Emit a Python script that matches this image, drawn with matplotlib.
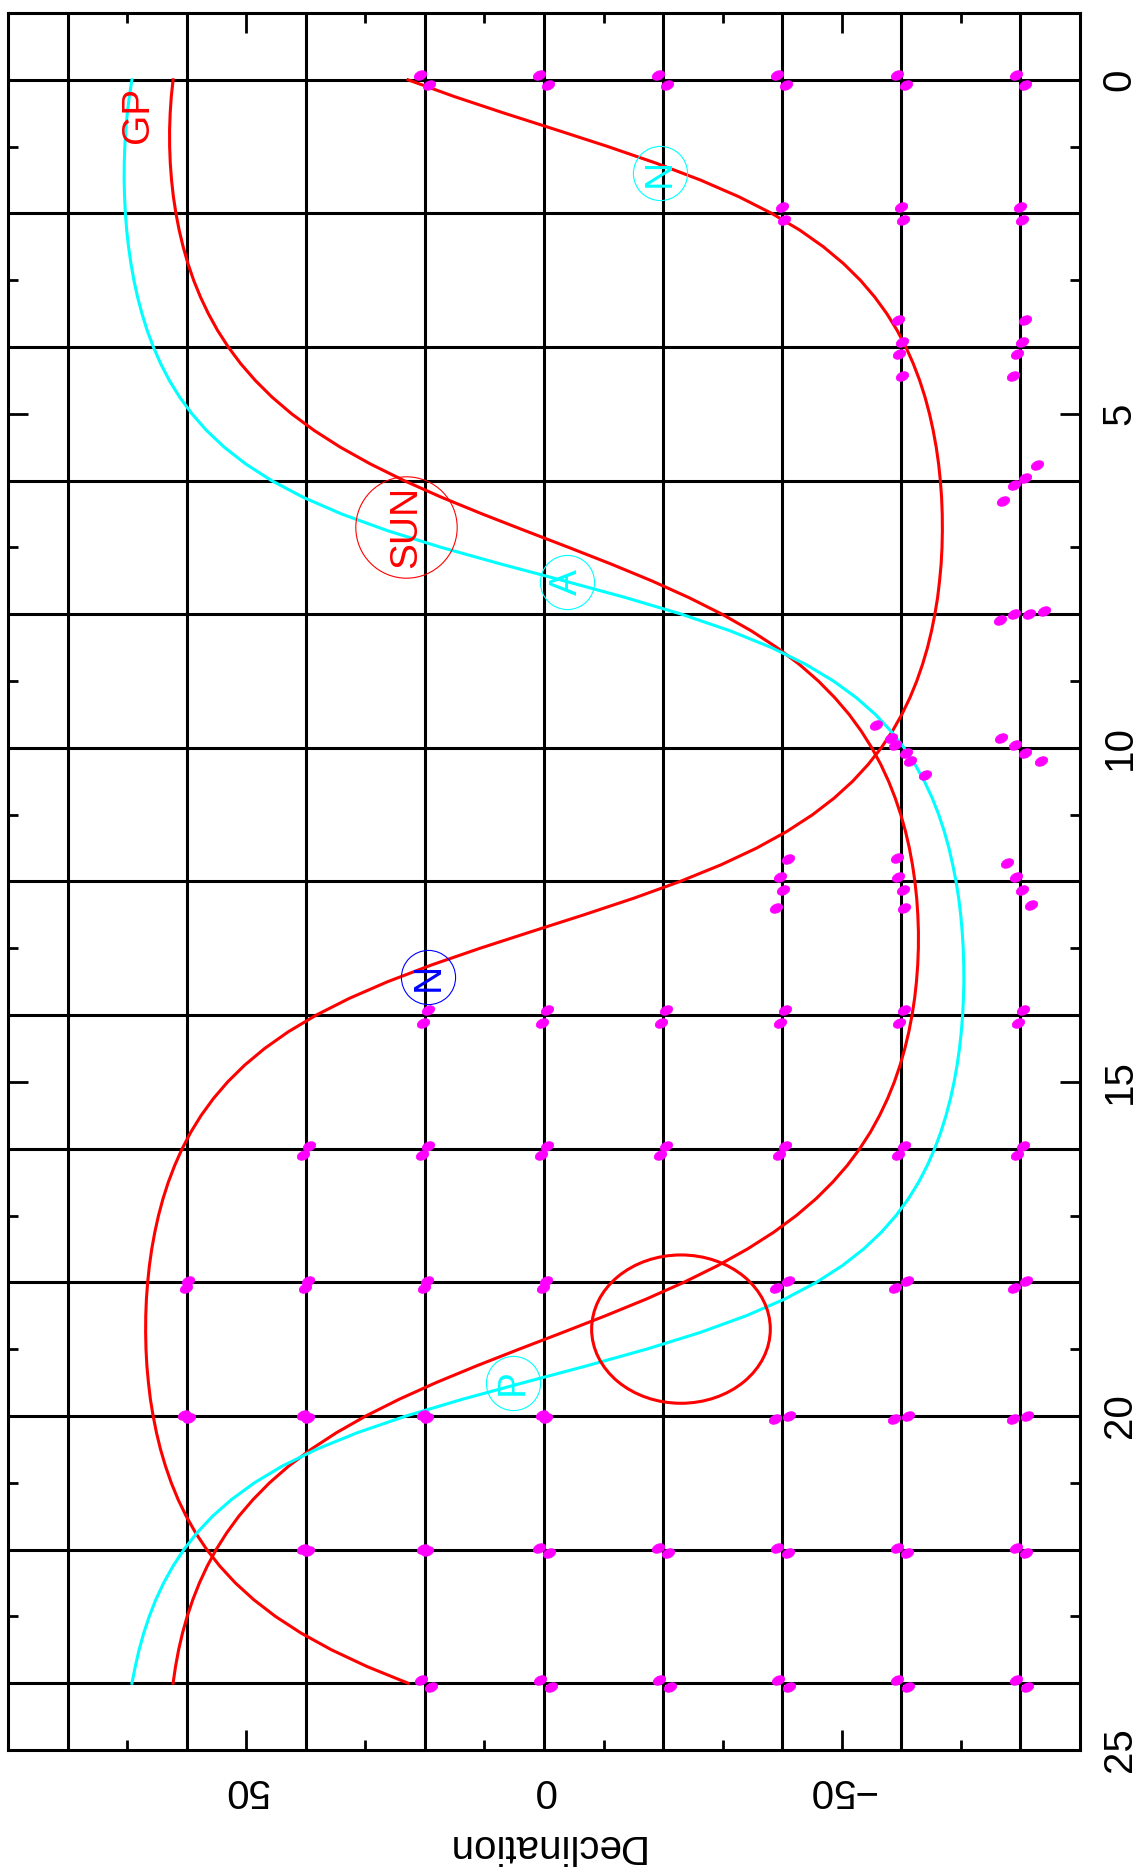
import matplotlib
matplotlib.use("Agg")
import matplotlib.pyplot as plt
from matplotlib.markers import MarkerStyle
from matplotlib.transforms import Affine2D
from matplotlib.ticker import MultipleLocator
from matplotlib.patches import Ellipse

plt.rcParams['font.family'] = ['Liberation Sans', 'DejaVu Sans']

# ---------------- data ----------------
ra_hours = [0.0, 0.25, 0.5, 0.75, 1.0, 1.25, 1.5, 1.75, 2.0, 2.25, 2.5, 2.75,
            3.0, 3.25, 3.5, 3.75, 4.0, 4.25, 4.5, 4.75, 5.0, 5.25, 5.5, 5.75,
            6.0, 6.25, 6.5, 6.75, 7.0, 7.25, 7.5, 7.75, 8.0, 8.25, 8.5, 8.75,
            9.0, 9.25, 9.5, 9.75, 10.0, 10.25, 10.5, 10.75, 11.0, 11.25, 11.5, 11.75,
            12.0, 12.25, 12.5, 12.75, 13.0, 13.25, 13.5, 13.75, 14.0, 14.25, 14.5, 14.75,
            15.0, 15.25, 15.5, 15.75, 16.0, 16.25, 16.5, 16.75, 17.0, 17.25, 17.5, 17.75,
            18.0, 18.25, 18.5, 18.75, 19.0, 19.25, 19.5, 19.75, 20.0, 20.25, 20.5, 20.75,
            21.0, 21.25, 21.5, 21.75, 22.0, 22.25, 22.5, 22.75, 23.0, 23.25, 23.5, 23.75,
            24.0]

# red curve labelled GP (galactic plane)
galactic_plane_dec = [
    62.28, 62.58, 62.77, 62.87, 62.86, 62.75, 62.54, 62.23, 61.80, 61.26, 60.59, 59.79,
    58.83, 57.69, 56.36, 54.82, 53.01, 50.92, 48.48, 45.66, 42.37, 38.57, 34.18, 29.16,
    23.48, 17.18, 10.33, 3.14, -4.17, -11.32, -18.10, -24.32, -29.91, -34.84, -39.13, -42.87,
    -46.08, -48.84, -51.24, -53.28, -55.05, -56.56, -57.86, -58.97, -59.91, -60.70, -61.35, -61.87,
    -62.28, -62.58, -62.77, -62.87, -62.86, -62.75, -62.54, -62.23, -61.80, -61.26, -60.59, -59.79,
    -58.83, -57.69, -56.36, -54.82, -53.01, -50.92, -48.48, -45.66, -42.37, -38.57, -34.18, -29.16,
    -23.48, -17.18, -10.33, -3.14, 4.17, 11.32, 18.10, 24.32, 29.91, 34.84, 39.13, 42.87,
    46.08, 48.84, 51.24, 53.28, 55.05, 56.56, 57.86, 58.97, 59.91, 60.70, 61.35, 61.87,
    62.28]

# second red curve (90 deg from the Sun)
sun_limit_dec = [
    22.83, 15.08, 6.65, -2.11, -10.76, -18.90, -26.26, -32.71, -38.25, -42.95, -46.92, -50.28,
    -53.12, -55.52, -57.56, -59.29, -60.76, -62.01, -63.08, -63.98, -64.73, -65.35, -65.86, -66.26,
    -66.55, -66.76, -66.87, -66.89, -66.83, -66.68, -66.42, -66.09, -65.63, -65.07, -64.39, -63.56,
    -62.59, -61.44, -60.08, -58.50, -56.62, -54.41, -51.82, -48.74, -45.10, -40.79, -35.70, -29.73,
    -22.83, -15.08, -6.65, 2.11, 10.76, 18.90, 26.26, 32.71, 38.25, 42.95, 46.92, 50.28,
    53.12, 55.52, 57.56, 59.29, 60.76, 62.01, 63.08, 63.98, 64.73, 65.35, 65.86, 66.26,
    66.55, 66.76, 66.87, 66.89, 66.83, 66.68, 66.42, 66.09, 65.63, 65.07, 64.39, 63.56,
    62.59, 61.44, 60.08, 58.50, 56.62, 54.41, 51.82, 48.74, 45.10, 40.79, 35.70, 29.73,
    22.83]

# cyan curve
cyan_plane_dec = [
    69.19, 69.63, 69.97, 70.22, 70.39, 70.48, 70.50, 70.43, 70.29, 70.07, 69.76, 69.36,
    68.86, 68.25, 67.51, 66.64, 65.59, 64.36, 62.91, 61.18, 59.11, 56.65, 53.68, 50.09,
    45.73, 40.42, 33.96, 26.24, 17.22, 7.16, -3.38, -13.70, -23.13, -31.33, -38.23, -43.94,
    -48.62, -52.46, -55.65, -58.27, -60.47, -62.31, -63.87, -65.18, -66.28, -67.21, -67.99, -68.63,
    -69.19, -69.63, -69.97, -70.22, -70.39, -70.48, -70.50, -70.43, -70.29, -70.07, -69.76, -69.36,
    -68.86, -68.25, -67.51, -66.64, -65.59, -64.36, -62.91, -61.18, -59.11, -56.65, -53.68, -50.09,
    -45.73, -40.42, -33.96, -26.24, -17.22, -7.16, 3.38, 13.70, 23.13, 31.33, 38.23, 43.94,
    48.62, 52.46, 55.65, 58.27, 60.47, 62.31, 63.87, 65.18, 66.28, 67.21, 67.99, 68.63,
    69.19]

# red ring around the anti-solar point
ring_ra = 18.70
ring_dec = -23.0
ring_half_dec = 15.0
ring_half_ra = 1.11

# grid values
dec_grid = [-80, -60, -40, -20, 0, 20, 40, 60, 80]
ra_grid = [0, 2, 4, 6, 8, 10, 12, 14, 16, 18, 20, 22, 24]

# magenta fields
field_ra = (
    [-0.07, 0.08] * 6 +
    [1.91, 2.10] * 3 +
    [3.60, 3.93, 4.10, 4.43, 3.60, 3.93, 4.10, 4.43] +
    [5.76, 5.96, 6.07, 6.30] +
    [7.95, 8.00, 8.00, 8.09] +
    [9.65, 9.85, 9.96, 10.08, 10.19, 10.40, 9.85, 9.96, 10.08, 10.19] +
    [11.67, 11.93, 12.12, 12.39, 11.65, 11.93, 12.12, 12.39, 11.72, 11.94, 12.12, 12.35] +
    [13.92, 14.12] * 6 +
    [15.96, 16.10] * 7 +
    [17.98, 18.09] * 4 + [17.98, 18.08] * 3 +
    [19.99, 20.03] * 4 + [20.00, 20.05] * 3 +
    [21.99, 22.02] * 2 + [21.98, 22.05] * 5 +
    [23.95, 24.05] * 6
)
field_dec = (
    [20.8, 19.3, 0.8, -0.7, -19.2, -20.7, -39.2, -40.7, -59.2, -60.7, -79.2, -80.7] +
    [-39.9, -40.3, -59.9, -60.3, -79.9, -80.3] +
    [-59.5, -60.1, -59.6, -60.1, -80.8, -80.2, -79.4, -78.8] +
    [-82.7, -80.7, -79.0, -77.0] +
    [-84.0, -81.5, -79.0, -76.6] +
    [-55.8, -58.2, -59.0, -60.7, -61.5, -63.9, -76.8, -79.1, -80.8, -83.5] +
    [-41.0, -39.6, -40.1, -38.9, -59.2, -59.4, -60.2, -60.4, -77.8, -79.3, -80.2, -81.7] +
    [19.5, 20.4, -0.5, 0.4, -20.5, -19.6, -40.5, -39.6, -60.5, -59.6, -80.5, -79.6] +
    [39.5, 40.5, 19.5, 20.5, -0.5, 0.5, -20.5, -19.5, -40.5, -39.5, -60.5, -59.5, -80.5, -79.5] +
    [59.7, 60.1, 39.7, 40.1, 19.7, 20.1, -0.3, 0.1, -41.0, -39.0, -61.0, -59.0, -81.0, -79.0] +
    [60.4, 59.6, 40.4, 39.6, 20.4, 19.6, 0.4, -0.4, -41.1, -38.8, -61.1, -58.8, -81.1, -78.8] +
    [40.4, 39.6, 20.4, 19.6, 0.8, -0.9, -19.2, -20.9, -39.2, -40.9, -59.2, -60.9, -79.2, -80.9] +
    [20.7, 18.9, 0.7, -1.1, -19.3, -21.1, -39.3, -41.1, -59.3, -61.1, -79.3, -81.1]
)

# ringed labels
label_text = ['SUN', 'A', 'N', 'P', 'N']
label_ra = [6.70, 7.52, 1.40, 19.50, 13.43]
label_dec = [23.2, -3.9, -19.4, 5.2, 19.4]
label_color = ['red', 'cyan', 'cyan', 'cyan', 'blue']

gp_label = 'GP'
gp_label_ra = 0.53
gp_label_dec = 68.2

xlabel_text = 'Declination'

# ---------------- figure ----------------
W, H = 1139, 1875
fig = plt.figure(figsize=(W / 100, H / 100), dpi=100)
ax = fig.add_axes([8 / W, 1 - 1750 / H, (1080 - 8) / W, (1750 - 13) / H])

ax.set_xlim(90, -90)
ax.set_ylim(25, -1)

for d in dec_grid:
    ax.axvline(d, color='black', lw=2.2, zorder=1)
for r in ra_grid:
    ax.axhline(r, color='black', lw=2.2, zorder=1)

ax.plot(galactic_plane_dec, ra_hours, color='red', lw=2.2, zorder=2)
ax.plot(sun_limit_dec, ra_hours, color='red', lw=2.2, zorder=2)
ax.plot(cyan_plane_dec, ra_hours, color='cyan', lw=2.2, zorder=2)

ax.add_patch(Ellipse((ring_dec, ring_ra), width=2 * ring_half_dec, height=2 * ring_half_ra,
                     fill=False, ec='red', lw=2.2, zorder=2))

blob = MarkerStyle('o', transform=Affine2D().scale(1.5, 1.0).rotate_deg(25))
ax.plot(field_dec, field_ra, ls='none', marker=blob, markersize=6.2,
        color='magenta', mec='magenta', mew=0.6, zorder=3)

for t, r, d, c in zip(label_text, label_ra, label_dec, label_color):
    size = 73 if t == 'SUN' else 39
    ax.plot([d], [r], ls='none', marker='o', markersize=size, mfc='none', mec=c, mew=0.8, zorder=4)
    ax.text(d, r, t, color=c, fontsize=28, rotation=90, ha='center', va='center',
            rotation_mode='anchor', zorder=5)

ax.text(gp_label_dec, gp_label_ra, gp_label, color='red', fontsize=28, rotation=90,
        ha='center', va='center', rotation_mode='anchor', zorder=5)

# ticks
ax.xaxis.set_major_locator(MultipleLocator(50))
ax.xaxis.set_minor_locator(MultipleLocator(10))
ax.yaxis.set_major_locator(MultipleLocator(5))
ax.yaxis.set_minor_locator(MultipleLocator(1))
ax.tick_params(which='both', direction='in', top=True, bottom=True, left=True, right=True,
               width=2.0, color='black')
ax.tick_params(which='major', length=14.4)
ax.tick_params(which='minor', length=7.2)
ax.tick_params(axis='x', which='major', labelsize=29, labelrotation=180, pad=15)
ax.tick_params(axis='y', which='major', labelsize=29, labelrotation=90, pad=15,
               labelleft=False, labelright=True)
for lbl in ax.get_yticklabels():
    lbl.set_va('center')
for sp in ax.spines.values():
    sp.set_linewidth(2.2)

ax.set_xlabel(xlabel_text, fontsize=29, rotation=180, labelpad=13)

fig.savefig('out.png', dpi=100)
